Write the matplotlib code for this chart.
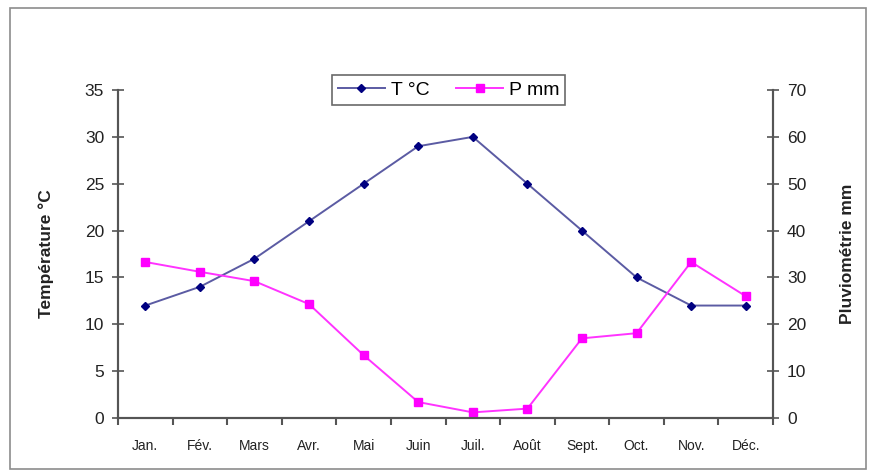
import matplotlib.pyplot as plt
from matplotlib.patches import Rectangle

plt.rcParams['font.family'] = ['Liberation Sans', 'DejaVu Sans']

mois = ['Jan.', 'Fév.', 'Mars', 'Avr.', 'Mai', 'Juin', 'Juil.', 'Août',
        'Sept.', 'Oct.', 'Nov.', 'Déc.']
temp = [12, 14, 17, 21, 25, 29, 30, 25, 20, 15, 12, 12]
pluie = [33.3, 31.2, 29.2, 24.3, 13.4, 3.4, 1.2, 2.0, 17.0, 18.1, 33.3, 26.0]

fig = plt.figure(figsize=(8.71, 4.75), dpi=100)
# cadre gris autour du graphique
fig.patches.append(Rectangle((0.012, 0.012), 0.982, 0.972, transform=fig.transFigure,
                             fill=False, edgecolor='#8c8c8c', linewidth=1.2))

ax = fig.add_axes([0.1355, 0.12, 0.752, 0.6905])
ax2 = ax.twinx()

x = list(range(len(mois)))
l1, = ax.plot(x, temp, color='#5b5ba3', linewidth=1.4, marker='D', markersize=4.5,
              markerfacecolor='#000080', markeredgecolor='#000080', label='T °C')
l2, = ax2.plot(x, pluie, color='#ff33ff', linewidth=1.4, marker='s', markersize=5.5,
               markerfacecolor='#ff00ff', markeredgecolor='#ff00ff', label='P mm')

ax.set_xlim(-0.5, 11.5)
ax.set_ylim(0, 35)
ax2.set_ylim(0, 70)
ax.set_yticks(range(0, 36, 5))
ax2.set_yticks(range(0, 71, 10))

ax.set_xticks([i - 0.5 for i in range(13)], minor=False)
ax.set_xticklabels([])
ax.set_xticks(x, minor=True)
ax.set_xticklabels(mois, minor=True, fontsize=10, color='#222222')
ax.tick_params(axis='x', which='minor', length=0, pad=15)
ax.tick_params(axis='x', which='major', length=5, direction='out', color='#555555', width=1.5)
ax.tick_params(axis='y', direction='inout', length=8, width=1.2, color='#555555',
               labelsize=12.5, labelcolor='#222222', pad=6)
ax2.tick_params(axis='y', direction='inout', length=8, width=1.2, color='#555555',
                labelsize=12.5, labelcolor='#222222', pad=6)

for a in (ax, ax2):
    a.spines['top'].set_visible(False)
    for s in ('left', 'right', 'bottom'):
        a.spines[s].set_color('#555555')
        a.spines[s].set_linewidth(1.5)

ax.set_ylabel('Température °C', fontsize=12.5, fontweight='bold', color='#222222', labelpad=22)
ax2.set_ylabel('Pluviométrie mm', fontsize=12.5, fontweight='bold', color='#222222', labelpad=24)

leg = ax.legend(handles=[l1, l2], loc='center', bbox_to_anchor=(0.505, 1.0), ncol=2,
                fontsize=14, frameon=True, fancybox=False, edgecolor='#444444',
                handlelength=2.4, columnspacing=1.4, borderpad=0.3, handletextpad=0.3)
leg.get_frame().set_linewidth(1.2)

fig.savefig('out.png', dpi=100)
